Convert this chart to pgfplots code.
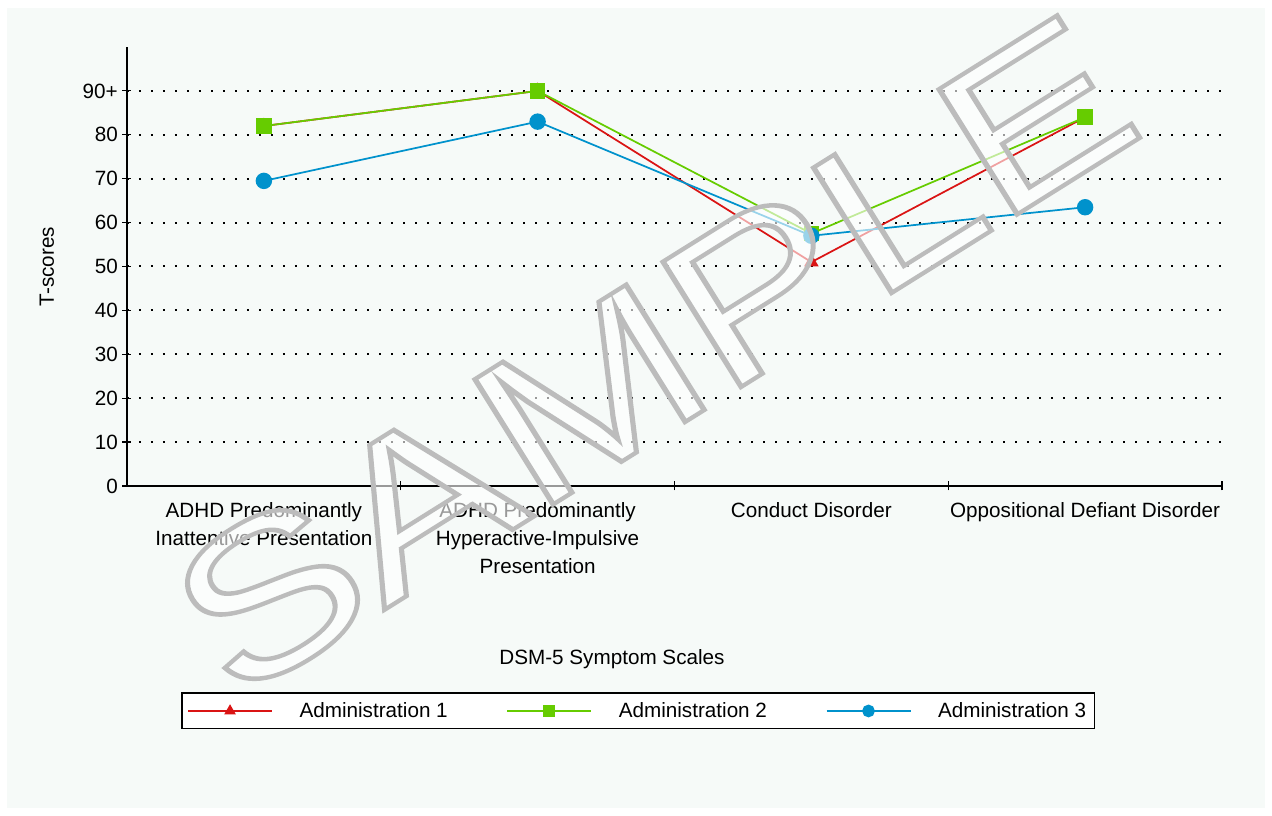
\documentclass[border=0pt]{standalone}
\usepackage{pgfplots}
\pgfplotsset{compat=1.18}
\usepackage{fontspec}
\setmainfont{Liberation Sans}

\definecolor{panel}{RGB}{246,250,248}
\definecolor{adm1}{RGB}{218,20,20}
\definecolor{adm2}{RGB}{102,204,0}
\definecolor{adm3}{RGB}{0,146,204}
\definecolor{wmgray}{RGB}{188,188,188}

% 1 px of the reference = 0.75pt
\newcommand\labfont{\fontsize{15.5}{21}\selectfont}
\newcommand\wmfont{\fontsize{161}{161}\selectfont}

\begin{document}
\begin{tikzpicture}
\fill[white] (-95.25pt,-247.5pt) rectangle (858.75pt,364.5pt);
\fill[panel] (-90pt,-241.5pt) rectangle (853.5pt,358.5pt);

\begin{axis}[
    at={(0pt,0pt)}, anchor=south west,
    scale only axis,
    width=821.25pt, height=329.25pt,
    xmin=0, xmax=4, ymin=0, ymax=100,
    axis x line*=bottom, axis y line*=left,
    axis line style={black, line width=1.2pt, -},
    xtick={1,2,3,4}, xticklabels={},
    extra x ticks={0.5,1.5,2.5,3.5},
    extra x tick labels={{ADHD Predominantly\\Inattentive Presentation},
        {ADHD Predominantly\\Hyperactive-Impulsive\\Presentation},
        {Conduct Disorder},
        {Oppositional Defiant Disorder}},
    extra x tick style={major tick length=0pt},
    ytick={0,10,...,90},
    yticklabels={0,10,20,30,40,50,60,70,80,90+},
    tick align=center,
    major tick length=6.75pt,
    tick style={black, line width=0.9pt},
    ymajorgrids,
    major grid style={black, line width=1.5pt, dash pattern=on 1.5pt off 7.5pt},
    tick label style={font=\labfont},
    xticklabel style={align=center, yshift=-9pt},
    ylabel={T-scores},
    ylabel style={at={(axis description cs:-0.0731,0.5)}, anchor=center,
        font=\labfont},
    xlabel={DSM-5 Symptom Scales},
    xlabel style={at={(axis description cs:0.4429,-0.4077)}, anchor=base,
        font=\labfont},
    legend columns=3,
    legend style={at={(axis description cs:0.4667,-0.5125)}, anchor=center,
        draw=black, line width=1pt, fill=white,
        inner xsep=4pt, inner ysep=5pt, font=\labfont,
        /tikz/every even column/.append style={column sep=42pt}},
    legend image code/.code={
        \draw[mark repeat=2, mark phase=2, #1, mark options={scale=0.75}]
            plot coordinates {(0pt,0pt) (31.5pt,0pt) (63pt,0pt)};
        \path (81pt,0pt);
    },
]
\addplot[adm1, line width=1.3pt, mark=triangle*, mark size=5pt]
    coordinates {(0.5,82) (1.5,90) (2.5,51) (3.5,84)};
\addlegendentry{Administration 1}
\addplot[adm2, line width=1.3pt, mark=square*, mark size=5.25pt]
    coordinates {(0.5,82) (1.5,90) (2.5,57.5) (3.5,84)};
\addlegendentry{Administration 2}
\addplot[adm3, line width=1.3pt, mark=*, mark size=5.5pt]
    coordinates {(0.5,69.5) (1.5,83) (2.5,57) (3.5,63.5)};
\addlegendentry{Administration 3}
\end{axis}

% watermark: translucent white fill, grey outline
\node[overlay, rotate=32, xscale=1.24, text=white, text opacity=0.6, font=\wmfont]
    at (394pt,98pt) {SAMPLE};
\node[overlay, rotate=32, xscale=1.24, text=wmgray, font=\wmfont]
    at (394pt,98pt)
    {\special{pdf:literal direct 1 Tr 3.2 w}SAMPLE\special{pdf:literal direct 0 Tr}};

\pgfresetboundingbox
\path[use as bounding box] (-95.25pt,-247.5pt) rectangle (858.75pt,364.5pt);
\end{tikzpicture}
\end{document}
